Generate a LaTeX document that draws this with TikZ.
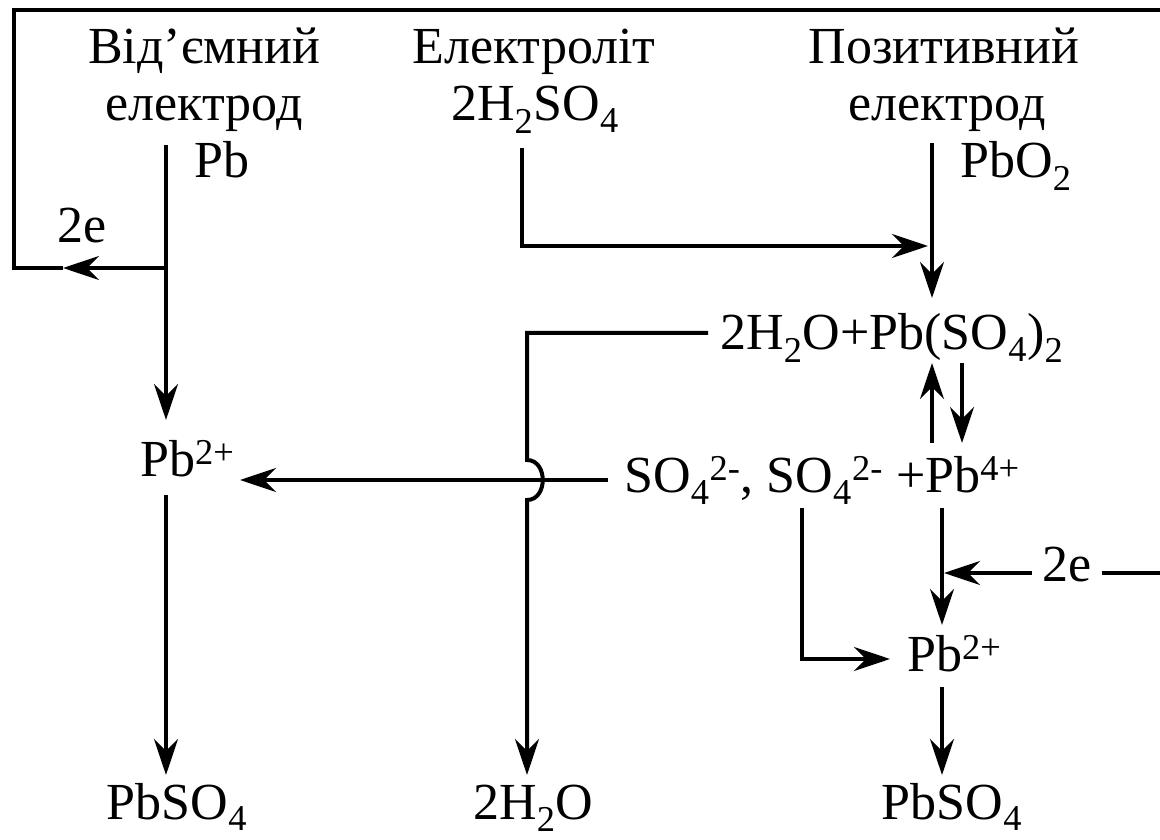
\documentclass[tikz,border=0pt]{standalone}
\usepackage{fontspec}
\setmainfont{Liberation Serif}
\usetikzlibrary{arrows.meta}

\begin{document}
\begin{tikzpicture}[
  txt/.style={font=\fontsize{37}{44}\selectfont, inner sep=0, anchor=base},
  wire/.style={line width=0.1cm},
  arr/.style={wire, -{Stealth[length=0.9cm, width=0.6cm, inset=0.3cm]}},
]
\useasboundingbox (0,0) rectangle (29,20.975);
% Negative electrode
\node[txt] (negA) at (5.1,19.375) {Від’ємний};
\node[txt] (negB) at (5.1,17.95) {електрод};
\node[txt] (negPb) at (5.55,16.525) {Pb};
\node[txt] (eL) at (2.05,14.9) {2e};
% Electrolyte
\node[txt] (elA) at (13.35,19.375) {Електроліт};
\node[txt] (elB) at (13.375,17.95) {2H\textsubscript{2}SO\textsubscript{4}};
% Positive electrode
\node[txt] (posA) at (23.6,19.375) {Позитивний};
\node[txt] (posB) at (23.68,17.95) {електрод};
\node[txt] (posPb) at (25.4,16.525) {PbO\textsubscript{2}};
% Middle rows
\node[txt, anchor=base west] (mix) at (18.0,12.225) {2H\textsubscript{2}O+Pb(SO\textsubscript{4})\textsubscript{2}};
\node[txt, anchor=base west] (ions) at (15.6,8.65) {SO\textsubscript{4}\textsuperscript{2-}, SO\textsubscript{4}\textsuperscript{2-} +Pb\textsuperscript{4+}};
\node[txt, anchor=base west] (pbL) at (3.5,9.05) {Pb\textsuperscript{2+}};
\node[txt, anchor=base west] (pbR) at (22.675,4.175) {Pb\textsuperscript{2+}};
\node[txt] (eR) at (26.68,6.425) {2e};
% Products
\node[txt] (botL) at (4.425,0.5) {PbSO\textsubscript{4}};
\node[txt] (botM) at (13.33,0.5) {2H\textsubscript{2}O};
\node[txt] (botR) at (23.8,0.5) {PbSO\textsubscript{4}};

% left column and outer wire
\coordinate (nTop) at (4.15,17.35);
\coordinate (nJ) at (4.15,14.275);
\coordinate (nTip) at (4.15,10.475);
\coordinate (eTip) at (1.575,14.275);
\coordinate (wL) at (0.35,14.275);
\coordinate (wTL) at (0.35,20.725);
\coordinate (wTR) at (29,20.725);
\draw[wire] (nTop) -- (nJ);
\draw[arr] (nJ) -- (nTip);
\draw[arr] (nJ) -- (eTip);
\draw[wire] (eTip) -- (wL) -- (wTL) -- (wTR);
\coordinate (lA) at (4.15,8.6);
\coordinate (lTip) at (4.15,1.6);
\draw[arr] (lA) -- (lTip);

% electrolyte to positive side
\coordinate (elTop) at (13.05,17.275);
\coordinate (elC) at (13.05,14.825);
\coordinate (elTip) at (23.2,14.825);
\draw[arr] (elTop) -- (elC) -- (elTip);
\coordinate (pTop) at (23.3,17.4);
\coordinate (pTip) at (23.3,13.525);
\draw[arr] (pTop) -- (pTip);

% water line with hop
\coordinate (wA) at (17.7,12.65);
\coordinate (wB) at (13.175,12.65);
\coordinate (hopA) at (13.175,9.475);
\coordinate (hopB) at (13.175,8.475);
\coordinate (wTip) at (13.175,1.6);
\draw[arr] (wA) -- (wB) -- (hopA) .. controls (13.7,9.475) and (13.7,8.475) .. (hopB) -- (wTip);

% ions to left Pb
\coordinate (iA) at (15.2,8.975);
\coordinate (iTip) at (6.0,8.975);
\draw[arr] (iA) -- (iTip);

% equilibrium
\coordinate (upA) at (23.3,9.9);
\coordinate (upB) at (23.3,11.9);
\coordinate (dnA) at (24.05,11.9);
\coordinate (dnB) at (24.05,9.9);
\draw[arr] (upA) -- (upB);
\draw[arr] (dnA) -- (dnB);

% right lower part
\coordinate (rTop) at (23.55,8.275);
\coordinate (rTip) at (23.55,5.35);
\draw[arr] (rTop) -- (rTip);
\coordinate (eRA) at (25.8,6.65);
\coordinate (eRTip) at (23.6,6.65);
\coordinate (eRB) at (27.55,6.65);
\coordinate (eRC) at (29,6.65);
\draw[arr] (eRA) -- (eRTip);
\draw[wire] (eRB) -- (eRC);
\coordinate (sA) at (20.05,8.275);
\coordinate (sB) at (20.05,4.5);
\coordinate (sTip) at (22.25,4.5);
\draw[arr] (sA) -- (sB) -- (sTip);
\coordinate (rB) at (23.55,3.8);
\coordinate (rBTip) at (23.55,1.6);
\draw[arr] (rB) -- (rBTip);
\end{tikzpicture}
\end{document}
